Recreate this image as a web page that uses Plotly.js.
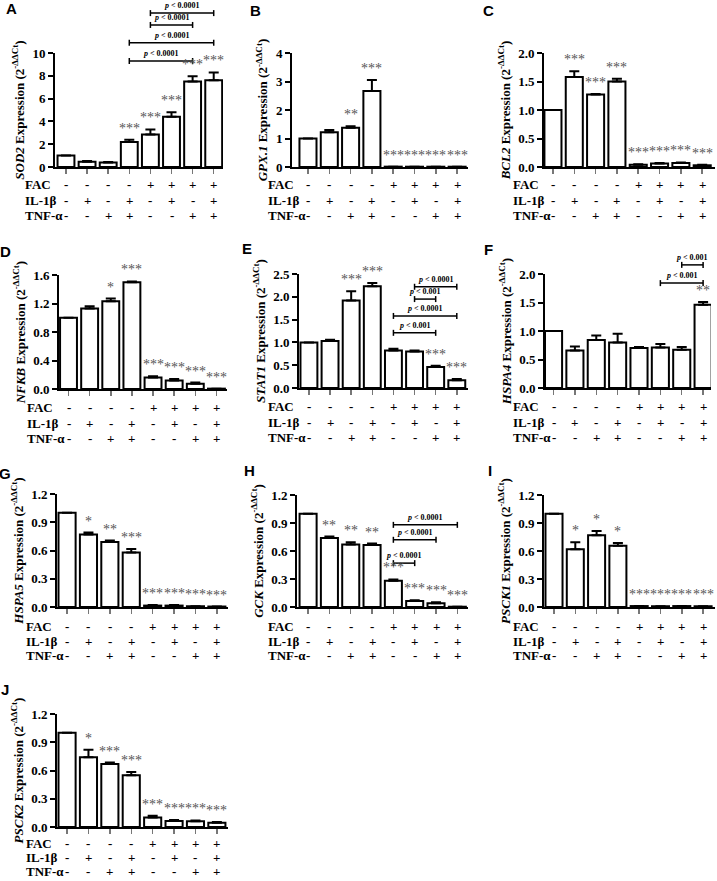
<!DOCTYPE html>
<html><head><meta charset="utf-8">
<script src="https://cdn.plot.ly/plotly-3.0.1.min.js"></script>
<style>html,body{margin:0;padding:0;background:#fff}#chart{width:717px;height:881px}</style>
</head><body><div id="chart"></div>
<script>
// ---------- DATA ----------
const groups = [0,1,2,3,4,5,6,7];
const FAC  = ['-','-','-','-','+','+','+','+'];
const IL1B = ['-','+','-','+','-','+','-','+'];
const TNFA = ['-','-','+','+','-','-','+','+'];
const rowLabels = ['FAC','IL-1β','TNF-α'];

const SOD2_mean = [1.0, 0.45, 0.40, 2.2, 2.85, 4.4, 7.5, 7.6];
const SOD2_sem  = [0, 0.08, 0.04, 0.2, 0.45, 0.4, 0.45, 0.7];
const SOD2_sig  = ['', '', '', '***', '***', '***', '***', '***'];
const SOD2_ticks = [0, 2, 4, 6, 8, 10];
const SOD2_comp = [[3, 6, '0.0001'], [3, 7, '0.0001'], [4, 6, '0.0001'], [4, 7, '0.0001']];

const GPX1_mean = [1.0, 1.22, 1.38, 2.67, 0.012, 0.01, 0.01, 0.01];
const GPX1_sem  = [0, 0.08, 0.05, 0.38, 0, 0, 0, 0];
const GPX1_sig  = ['', '', '**', '***', '***', '***', '***', '***'];
const GPX1_ticks = [0, 1, 2, 3, 4];

const BCL2_mean = [1.0, 1.58, 1.27, 1.5, 0.04, 0.06, 0.07, 0.03];
const BCL2_sem  = [0, 0.1, 0.01, 0.05, 0.01, 0.01, 0.01, 0.01];
const BCL2_sig  = ['', '***', '***', '***', '***', '***', '***', '***'];
const BCL2_ticks = [0, 0.5, 1.0, 1.5, 2.0];

const NFKB_mean = [1.0, 1.13, 1.23, 1.5, 0.16, 0.12, 0.075, 0.005];
const NFKB_sem  = [0, 0.03, 0.04, 0.01, 0.02, 0.02, 0.015, 0];
const NFKB_sig  = ['', '', '*', '***', '***', '***', '***', '***'];
const NFKB_ticks = [0, 0.4, 0.8, 1.2, 1.6];

const STAT1_mean = [1.0, 1.03, 1.92, 2.23, 0.82, 0.8, 0.46, 0.17];
const STAT1_sem  = [0, 0.03, 0.2, 0.07, 0.04, 0.02, 0.03, 0.03];
const STAT1_sig  = ['', '', '***', '***', '', '', '***', '***'];
const STAT1_ticks = [0, 0.5, 1.0, 1.5, 2.0, 2.5];
const STAT1_comp = [[4, 6, '0.001'], [4, 7, '0.0001'], [5, 6, '0.001'], [5, 7, '0.0001']];

const HSPA4_mean = [1.0, 0.66, 0.84, 0.8, 0.7, 0.71, 0.67, 1.46];
const HSPA4_sem  = [0, 0.07, 0.08, 0.15, 0.02, 0.06, 0.05, 0.05];
const HSPA4_sig  = ['', '', '', '', '', '', '', '**'];
const HSPA4_ticks = [0, 0.5, 1.0, 1.5, 2.0];
const HSPA4_comp = [[5, 7, '0.001'], [6, 7, '0.001']];

const HSPA5_mean = [1.0, 0.77, 0.69, 0.58, 0.015, 0.015, 0.008, 0.005];
const HSPA5_sem  = [0, 0.02, 0.015, 0.035, 0.005, 0.005, 0, 0];
const HSPA5_sig  = ['', '*', '**', '***', '***', '***', '***', '***'];
const HSPA5_ticks = [0, 0.3, 0.6, 0.9, 1.2];

const GCK_mean = [1.0, 0.74, 0.67, 0.665, 0.28, 0.065, 0.04, 0.003];
const GCK_sem  = [0, 0.015, 0.025, 0.015, 0.015, 0.008, 0.012, 0];
const GCK_sig  = ['', '**', '**', '**', '***', '***', '***', '***'];
const GCK_ticks = [0, 0.3, 0.6, 0.9, 1.2];
const GCK_comp = [[4, 5, '0.0001'], [4, 6, '0.0001'], [4, 7, '0.0001']];

const PSCK1_mean = [1.0, 0.62, 0.77, 0.655, 0.01, 0.008, 0.01, 0.008];
const PSCK1_sem  = [0, 0.075, 0.045, 0.03, 0, 0, 0, 0];
const PSCK1_sig  = ['', '*', '*', '*', '***', '***', '***', '***'];
const PSCK1_ticks = [0, 0.3, 0.6, 0.9, 1.2];

const PSCK2_mean = [1.0, 0.74, 0.67, 0.55, 0.1, 0.065, 0.06, 0.046];
const PSCK2_sem  = [0, 0.08, 0.015, 0.035, 0.02, 0.01, 0.01, 0.008];
const PSCK2_sig  = ['', '*', '***', '***', '***', '***', '***', '***'];
const PSCK2_ticks = [0, 0.3, 0.6, 0.9, 1.2];

const panels = [
  {gene:'SOD2',  mean:SOD2_mean,  sem:SOD2_sem,  sig:SOD2_sig,  ticks:SOD2_ticks,  fmt:'d',   comp:SOD2_comp},
  {gene:'GPX.1', mean:GPX1_mean,  sem:GPX1_sem,  sig:GPX1_sig,  ticks:GPX1_ticks,  fmt:'d',   comp:[]},
  {gene:'BCL2',  mean:BCL2_mean,  sem:BCL2_sem,  sig:BCL2_sig,  ticks:BCL2_ticks,  fmt:'.1f', comp:[]},
  {gene:'NFKB',  mean:NFKB_mean,  sem:NFKB_sem,  sig:NFKB_sig,  ticks:NFKB_ticks,  fmt:'.1f', comp:[]},
  {gene:'STAT1', mean:STAT1_mean, sem:STAT1_sem, sig:STAT1_sig, ticks:STAT1_ticks, fmt:'.1f', comp:STAT1_comp},
  {gene:'HSPA4', mean:HSPA4_mean, sem:HSPA4_sem, sig:HSPA4_sig, ticks:HSPA4_ticks, fmt:'.1f', comp:HSPA4_comp},
  {gene:'HSPA5', mean:HSPA5_mean, sem:HSPA5_sem, sig:HSPA5_sig, ticks:HSPA5_ticks, fmt:'.1f', comp:[]},
  {gene:'GCK',   mean:GCK_mean,   sem:GCK_sem,   sig:GCK_sig,   ticks:GCK_ticks,   fmt:'.1f', comp:GCK_comp},
  {gene:'PSCK1', mean:PSCK1_mean, sem:PSCK1_sem, sig:PSCK1_sig, ticks:PSCK1_ticks, fmt:'.1f', comp:[]},
  {gene:'PSCK2', mean:PSCK2_mean, sem:PSCK2_sem, sig:PSCK2_sig, ticks:PSCK2_ticks, fmt:'.1f', comp:[]}
];

// ---------- LAYOUT GEOMETRY (pixels) ----------
const W = 717, H = 881;
const geo = [
  {letter:'A', L:55,  R:223, top:53,  bot:167, xr:[-0.52,7.44], labX:23,  lx:11,  ly:8,   rows:[-18,-34,-49], levels:[9.3, 10.9, 12.46, 13.5]},
  {letter:'B', L:292, R:468, top:53,  bot:167, xr:[-0.75,7.51], labX:266, lx:255, ly:10,  rows:[-18,-34,-49], levels:[]},
  {letter:'C', L:544, R:715, top:53,  bot:167, xr:[-0.42,7.6],  labX:511, lx:489, ly:10,  rows:[-18,-34,-49], levels:[]},
  {letter:'D', L:59,  R:227, top:275, bot:389, xr:[-0.45,7.5],  labX:25,  lx:6,   ly:251, rows:[-18,-34,-49], levels:[]},
  {letter:'E', L:299, R:468, top:274, bot:388, xr:[-0.47,7.53], labX:266, lx:247, ly:248, rows:[-18,-34,-49], levels:[1.21, 1.58, 1.95, 2.22]},
  {letter:'F', L:545, R:711, top:274, bot:388, xr:[-0.4,7.37],  labX:511, lx:489, ly:249, rows:[-18,-34,-49], levels:[1.84, 2.16]},
  {letter:'G', L:57,  R:228, top:494, bot:607, xr:[-0.47,7.52], labX:24,  lx:5,   ly:473, rows:[-19,-34,-48], levels:[]},
  {letter:'H', L:297, R:468, top:495, bot:607, xr:[-0.52,7.5],  labX:266, lx:249, ly:471, rows:[-19,-34,-48], levels:[0.47, 0.72, 0.88]},
  {letter:'I', L:544, R:715, top:495, bot:607, xr:[-0.47,7.56], labX:511, lx:490, ly:471, rows:[-19,-34,-48], levels:[]},
  {letter:'J', L:57,  R:228, top:714, bot:827, xr:[-0.47,7.52], labX:24,  lx:5,   ly:689, rows:[-17,-31,-45], levels:[]}
];

const SERIF = 'Liberation Serif, Times New Roman, serif';
const traces = [];
const layout = {
  width: W, height: H, margin: {l:0, r:0, t:0, b:0},
  showlegend: false, paper_bgcolor: '#fff', plot_bgcolor: 'rgba(0,0,0,0)',
  font: {family: SERIF, color: '#000'},
  annotations: [], shapes: []
};

panels.forEach((p, k) => {
  const g = geo[k];
  const n = k + 1;
  const suf = n === 1 ? '' : String(n);
  const xid = 'x' + suf, yid = 'y' + suf;
  const ymax = p.ticks[p.ticks.length - 1];

  traces.push({
    type: 'bar', x: groups, y: p.mean, xaxis: xid, yaxis: yid, width: 0.8,
    marker: {color: '#fff', line: {color: '#000', width: 2}},
    error_y: {type: 'data', array: p.sem, arrayminus: p.sem.map(() => 0), symmetric: false,
              color: '#000', thickness: 2, width: 5},
    hoverinfo: 'none'
  });

  layout['xaxis' + suf] = {
    domain: [g.L / W, g.R / W], anchor: yid, range: g.xr,
    showline: true, linewidth: 2, linecolor: '#000',
    ticks: 'outside', tickmode: 'array', tickvals: groups, ticklen: 5, tickwidth: 1.5, tickcolor: '#777',
    showticklabels: false, showgrid: false, zeroline: false, fixedrange: true
  };
  layout['yaxis' + suf] = {
    domain: [1 - g.bot / H, 1 - g.top / H], anchor: xid, range: [0, ymax],
    tickmode: 'array', tickvals: p.ticks, tickformat: p.fmt,
    ticks: 'outside', ticklen: 5, tickwidth: 2, tickcolor: '#000',
    showline: true, linewidth: 2, linecolor: '#000', showgrid: false, zeroline: false, fixedrange: true,
    tickfont: {family: SERIF, size: 13, weight: 'bold', color: '#000'},
    title: {text: '<b><i>' + p.gene + '</i> Expression (2<sup>-ΔΔCt</sup>)</b>',
            font: {family: SERIF, size: 13, color: '#000'}, standoff: 5}
  };

  // significance stars
  p.sig.forEach((s, i) => {
    if (!s) return;
    layout.annotations.push({
      xref: xid, yref: yid, x: groups[i], y: p.mean[i] + p.sem[i], yanchor: 'bottom', yshift: 2, showarrow: false,
      text: s, font: {family: SERIF, size: 14, color: '#555'}
    });
  });

  // comparison brackets
  p.comp.forEach((c, j) => {
    const lv = g.levels[j] / ymax;
    const ln = {color: '#000', width: 1.5};
    layout.shapes.push({type: 'line', xref: xid, yref: yid + ' domain', x0: c[0], x1: c[1], y0: lv, y1: lv, line: ln});
    [c[0], c[1]].forEach(xe => layout.shapes.push({
      type: 'line', xref: xid, yref: yid + ' domain', ysizemode: 'pixel', yanchor: lv,
      x0: xe, x1: xe, y0: -3, y1: 3, line: ln
    }));
    layout.annotations.push({
      xref: xid, yref: yid + ' domain', x: (c[0] + c[1]) / 2, y: lv, yanchor: 'bottom', yshift: 1, showarrow: false,
      text: '<b><i>p</i> &lt; ' + c[2] + '</b>', font: {family: SERIF, size: 8, color: '#000'}
    });
  });

  // treatment table
  [FAC, IL1B, TNFA].forEach((row, r) => {
    layout.annotations.push({
      xref: 'paper', yref: yid + ' domain', x: g.labX / W, y: 0, xanchor: 'left', yanchor: 'middle',
      yshift: g.rows[r], showarrow: false, text: '<b>' + rowLabels[r] + '</b>',
      font: {family: SERIF, size: 13, color: '#000'}
    });
    row.forEach((v, i) => layout.annotations.push({
      xref: xid, yref: yid + ' domain', x: groups[i], y: 0, yanchor: 'middle',
      yshift: g.rows[r], showarrow: false, text: '<b>' + v + '</b>',
      font: {family: SERIF, size: 13, color: '#000'}
    }));
  });

  // panel letter
  layout.annotations.push({
    xref: 'paper', yref: 'paper', x: g.lx / W, y: 1 - g.ly / H, xanchor: 'center', yanchor: 'middle',
    showarrow: false, text: '<b>' + g.letter + '</b>',
    font: {family: 'Liberation Sans, Arial, sans-serif', size: 15, color: '#000'}
  });
});

Plotly.newPlot('chart', traces, layout, {displayModeBar: false, staticPlot: true});
</script>
</body></html>
